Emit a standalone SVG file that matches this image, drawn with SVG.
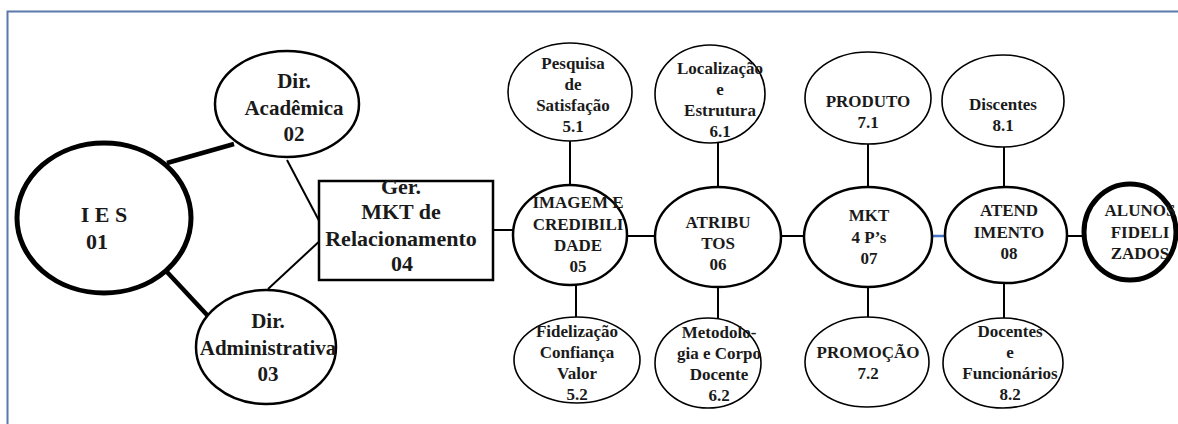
<svg xmlns="http://www.w3.org/2000/svg" width="1178" height="424" viewBox="0 0 1178 424">
  <style>
    .frame { fill: none; stroke: #5b79aa; stroke-width: 2; }
    .node { fill: #ffffff; stroke: #000000; }
    .main { stroke-width: 2.5; }
    .sub { stroke-width: 1.6; }
    .heavy { stroke-width: 5; }
    .link { stroke: #000000; stroke-width: 2; fill: none; }
    .link-heavy { stroke: #000000; stroke-width: 4.5; fill: none; }
    .link-blue { stroke: #4472c4; stroke-width: 2.5; fill: none; }
    text { font-family: "Liberation Serif", "Times New Roman", serif; font-weight: bold; fill: #1a1a1a; text-anchor: middle; }
    .t22 { font-size: 22px; }
    .t21 { font-size: 21px; }
    .t17 { font-size: 17px; }
  </style>

  <!-- page frame -->
  <path class="frame" d="M7.5 424 V11.5 H1178"/>

  <!-- connectors -->
  <g id="connectors">
    <line class="link-heavy" x1="167" y1="163" x2="234" y2="144"/>
    <line class="link-heavy" x1="167" y1="272" x2="208" y2="316"/>
    <line class="link" x1="287" y1="160" x2="325" y2="232"/>
    <line class="link" x1="268" y1="289" x2="324" y2="237"/>
    <line class="link" x1="493" y1="230" x2="513" y2="230"/>
    <line class="link" x1="570" y1="141" x2="570" y2="186"/>
    <line class="link" x1="576" y1="284" x2="576" y2="318"/>
    <line class="link" x1="626" y1="236" x2="656" y2="236"/>
    <line class="link" x1="718" y1="142" x2="718" y2="188"/>
    <line class="link" x1="718" y1="286" x2="718" y2="319"/>
    <line class="link" x1="781" y1="236" x2="804" y2="236"/>
    <line class="link" x1="868" y1="144" x2="868" y2="188"/>
    <line class="link" x1="868" y1="287" x2="868" y2="318"/>
    <line class="link-blue" x1="932" y1="236" x2="946" y2="236"/>
    <line class="link" x1="1004" y1="147" x2="1004" y2="188"/>
    <line class="link" x1="1004" y1="282" x2="1004" y2="319"/>
    <line class="link" x1="1066" y1="236" x2="1089" y2="236"/>
  </g>

  <!-- 01 -->
  <g id="ies">
    <ellipse class="node heavy" cx="104" cy="218" rx="87" ry="75"/>
    <text class="t22" x="104" y="222">I E S</text>
    <text class="t22" x="97" y="249">01</text>
  </g>

  <!-- 02 -->
  <g id="dir-academica">
    <ellipse class="node main" cx="287" cy="104" rx="72" ry="53"/>
    <text class="t21" x="294" y="88">Dir.</text>
    <text class="t21" x="294" y="115">Acadêmica</text>
    <text class="t21" x="294" y="141">02</text>
  </g>

  <!-- 03 -->
  <g id="dir-administrativa">
    <ellipse class="node main" cx="266" cy="347" rx="70" ry="57"/>
    <text class="t21" x="268" y="328">Dir.</text>
    <text class="t21" x="268" y="355">Administrativa</text>
    <text class="t21" x="268" y="381">03</text>
  </g>

  <!-- 04 -->
  <g id="ger-mkt">
    <rect class="node main" x="319" y="181" width="174" height="99"/>
    <text class="t22" x="401" y="194">Ger.</text>
    <text class="t22" x="401" y="219">MKT de</text>
    <text class="t22" x="401" y="246">Relacionamento</text>
    <text class="t22" x="402" y="271">04</text>
  </g>

  <!-- 05 -->
  <g id="imagem">
    <ellipse class="node main" cx="570" cy="235" rx="57" ry="50"/>
    <text class="t17" x="578" y="208">IMAGEM E</text>
    <text class="t17" x="578" y="230">CREDIBILI</text>
    <text class="t17" x="578" y="251">DADE</text>
    <text class="t17" x="578" y="272">05</text>
  </g>
  <g id="pesquisa">
    <ellipse class="node sub" cx="570" cy="92" rx="62" ry="49"/>
    <text class="t17" x="573" y="69">Pesquisa</text>
    <text class="t17" x="573" y="90">de</text>
    <text class="t17" x="573" y="111">Satisfação</text>
    <text class="t17" x="573" y="132">5.1</text>
  </g>
  <g id="fidelizacao">
    <ellipse class="node sub" cx="577" cy="360" rx="63" ry="43"/>
    <text class="t17" x="577" y="337">Fidelização</text>
    <text class="t17" x="577" y="358">Confiança</text>
    <text class="t17" x="577" y="379">Valor</text>
    <text class="t17" x="577" y="400">5.2</text>
  </g>

  <!-- 06 -->
  <g id="atributos">
    <ellipse class="node main" cx="718" cy="237" rx="63" ry="50"/>
    <text class="t17" x="718" y="228">ATRIBU</text>
    <text class="t17" x="718" y="249">TOS</text>
    <text class="t17" x="718" y="270">06</text>
  </g>
  <g id="localizacao">
    <ellipse class="node sub" cx="710" cy="94" rx="55" ry="49"/>
    <text class="t17" x="720" y="74">Localização</text>
    <text class="t17" x="720" y="95">e</text>
    <text class="t17" x="720" y="116">Estrutura</text>
    <text class="t17" x="720" y="137">6.1</text>
  </g>
  <g id="metodologia">
    <ellipse class="node sub" cx="708" cy="363" rx="53" ry="45"/>
    <text class="t17" x="719" y="338">Metodolo-</text>
    <text class="t17" x="719" y="359">gia e Corpo</text>
    <text class="t17" x="719" y="380">Docente</text>
    <text class="t17" x="719" y="401">6.2</text>
  </g>

  <!-- 07 -->
  <g id="mkt-4ps">
    <ellipse class="node main" cx="868" cy="237" rx="64" ry="50"/>
    <text class="t17" x="869" y="221">MKT</text>
    <text class="t17" x="869" y="243">4 P’s</text>
    <text class="t17" x="869" y="264">07</text>
  </g>
  <g id="produto">
    <ellipse class="node sub" cx="868" cy="98" rx="63" ry="46"/>
    <text class="t17" x="868" y="107">PRODUTO</text>
    <text class="t17" x="868" y="128">7.1</text>
  </g>
  <g id="promocao">
    <ellipse class="node sub" cx="867" cy="362" rx="62" ry="45"/>
    <text class="t17" x="868" y="358">PROMOÇÃO</text>
    <text class="t17" x="868" y="379">7.2</text>
  </g>

  <!-- 08 -->
  <g id="atendimento">
    <ellipse class="node main" cx="1006" cy="235" rx="61" ry="48"/>
    <text class="t17" x="1009" y="216">ATEND</text>
    <text class="t17" x="1009" y="238">IMENTO</text>
    <text class="t17" x="1009" y="259">08</text>
  </g>
  <g id="discentes">
    <ellipse class="node sub" cx="1003" cy="101" rx="61" ry="46"/>
    <text class="t17" x="1003" y="110">Discentes</text>
    <text class="t17" x="1003" y="131">8.1</text>
  </g>
  <g id="docentes">
    <ellipse class="node sub" cx="1003" cy="363" rx="60" ry="45"/>
    <text class="t17" x="1010" y="337">Docentes</text>
    <text class="t17" x="1010" y="358">e</text>
    <text class="t17" x="1010" y="379">Funcionários</text>
    <text class="t17" x="1010" y="400">8.2</text>
  </g>

  <!-- final result -->
  <g id="alunos">
    <ellipse class="node heavy" cx="1130" cy="232" rx="46" ry="48"/>
    <text class="t17" x="1140" y="216">ALUNOS</text>
    <text class="t17" x="1140" y="238">FIDELI</text>
    <text class="t17" x="1140" y="259">ZADOS</text>
  </g>
</svg>
